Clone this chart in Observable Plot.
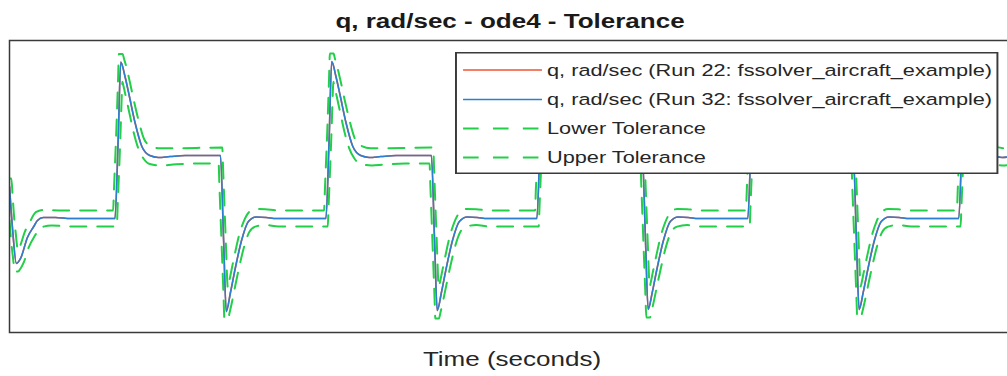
<!DOCTYPE html>
<html>
<head>
<meta charset="utf-8">
<script src="https://cdn.jsdelivr.net/npm/d3@7"></script>
<script src="https://cdn.jsdelivr.net/npm/@observablehq/plot@0.6"></script>
<style>
  html, body { margin: 0; padding: 0; background: #fff; overflow: hidden; }
  #page { position: relative; width: 1007px; height: 376px; overflow: hidden;
          font-family: "Liberation Sans", Arial, Helvetica, sans-serif; }
  #title { position: absolute; left: 510px; top: 11px; font-size: 20px; line-height: 20px;
           font-weight: bold; color: #1a1a1a; white-space: nowrap;
           transform: translateX(-50%) scaleX(1.3); }
  #plot { position: absolute; left: 0; top: 34px; width: 1014px; }
  #plot svg { max-width: none !important; }
  #xlabel { position: absolute; left: 512px; top: 349px; font-size: 20px; line-height: 20px;
            color: #262626; white-space: nowrap; transform: translateX(-50%) scaleX(1.3); }
  #legend { position: absolute; left: 455px; top: 52px; transform-origin: 0 0; transform: scaleX(1.3); }
</style>
</head>
<body>
<div id="page">
  <div id="title"></div>
  <div id="plot"></div>
  <div id="xlabel"></div>
  <div id="legend"></div>
</div>
<script>
// ---- text ----
const titleText = "q, rad/sec - ode4 - Tolerance";
const xLabelText = "Time (seconds)";
const legendLabels = [
  "q, rad/sec (Run 22: fssolver_aircraft_example)",
  "q, rad/sec (Run 32: fssolver_aircraft_example)",
  "Lower Tolerance",
  "Upper Tolerance"
];
const legendColors = ["#ee5434", "#2b7fd3", "#22cf48", "#22cf48"];
const legendDashed = [false, false, true, true];

// ---- signal (seconds, q) ----
const timeSig = [
  0.00,0.06,0.13,0.21,0.34,0.46,0.53,0.64,0.87,1.16,2.00,
  2.06,2.11,2.19,2.27,2.38,2.51,2.66,2.82,3.04,3.33,4.00,
  4.06,4.11,4.19,4.28,4.40,4.53,4.68,4.87,5.06,6.00,
  6.06,6.11,6.19,6.27,6.38,6.51,6.66,6.82,7.04,7.33,8.00,
  8.06,8.11,8.19,8.28,8.40,8.53,8.68,8.87,9.06,10.00,
  10.06,10.11,10.19,10.27,10.38,10.51,10.66,10.82,11.04,11.33,12.00,
  12.06,12.11,12.19,12.28,12.40,12.53,12.68,12.87,13.06,14.00,
  14.06,14.11,14.19,14.27,14.38,14.51,14.66,14.82,15.04,15.33,16.00,
  16.06,16.11,16.19,16.28,16.40,16.53,16.68,16.87,17.06,18.00,
  18.06,18.11,18.19,18.27,18.38,18.51,18.66,18.82,19.00
];
const qRun32 = [
  0.000,-0.300,-0.527,-0.493,-0.349,-0.274,-0.233,-0.212,-0.212,-0.219,-0.219,
  0.315,0.853,0.753,0.623,0.438,0.274,0.212,0.199,0.205,0.212,0.212,
  -0.370,-0.856,-0.726,-0.562,-0.370,-0.240,-0.209,-0.212,-0.219,-0.219,
  0.315,0.856,0.753,0.623,0.438,0.274,0.212,0.199,0.205,0.212,0.212,
  -0.370,-0.849,-0.726,-0.562,-0.370,-0.240,-0.209,-0.212,-0.219,-0.219,
  0.315,0.853,0.753,0.623,0.438,0.274,0.212,0.199,0.205,0.212,0.212,
  -0.370,-0.842,-0.722,-0.560,-0.370,-0.240,-0.209,-0.212,-0.219,-0.219,
  0.315,0.853,0.753,0.623,0.438,0.274,0.212,0.199,0.205,0.212,0.212,
  -0.370,-0.842,-0.722,-0.560,-0.370,-0.240,-0.209,-0.212,-0.219,-0.219,
  0.315,0.853,0.753,0.623,0.438,0.274,0.212,0.199,0.205
];
// Run 22 reads identical to Run 32 in the picture (hidden beneath it)
const qRun22 = [
  0.000,-0.300,-0.527,-0.493,-0.349,-0.274,-0.233,-0.212,-0.212,-0.219,-0.219,
  0.315,0.853,0.753,0.623,0.438,0.274,0.212,0.199,0.205,0.212,0.212,
  -0.370,-0.856,-0.726,-0.562,-0.370,-0.240,-0.209,-0.212,-0.219,-0.219,
  0.315,0.856,0.753,0.623,0.438,0.274,0.212,0.199,0.205,0.212,0.212,
  -0.370,-0.849,-0.726,-0.562,-0.370,-0.240,-0.209,-0.212,-0.219,-0.219,
  0.315,0.853,0.753,0.623,0.438,0.274,0.212,0.199,0.205,0.212,0.212,
  -0.370,-0.842,-0.722,-0.560,-0.370,-0.240,-0.209,-0.212,-0.219,-0.219,
  0.315,0.853,0.753,0.623,0.438,0.274,0.212,0.199,0.205,0.212,0.212,
  -0.370,-0.842,-0.722,-0.560,-0.370,-0.240,-0.209,-0.212,-0.219,-0.219,
  0.315,0.853,0.753,0.623,0.438,0.274,0.212,0.199,0.205
];

// ---- upper tolerance ----
const timeUpper = [
  0.00,0.035,0.06,0.09,0.12,0.15,0.17,0.21,0.29,0.38,0.50,0.65,1.00,
  1.965,1.98,2.00,2.02,2.04,2.06,2.075,2.145,2.17,2.21,2.28,2.36,2.45,2.55,2.66,2.85,3.10,
  4.035,4.05,4.07,4.09,4.11,4.13,4.14,4.16,4.20,4.27,4.35,4.44,4.54,4.66,4.85,5.10,
  5.965,5.98,6.00,6.02,6.04,6.06,6.075,6.145,6.17,6.21,6.28,6.36,6.45,6.55,6.66,6.85,7.10,
  8.035,8.05,8.07,8.09,8.11,8.13,8.14,8.16,8.20,8.27,8.35,8.44,8.54,8.66,8.85,9.10,
  9.965,9.98,10.00,10.02,10.04,10.06,10.075,10.145,10.17,10.21,10.28,10.36,10.45,10.55,10.66,10.85,11.10,
  12.035,12.05,12.07,12.09,12.11,12.13,12.14,12.16,12.20,12.27,12.35,12.44,12.54,12.66,12.85,13.10,
  13.965,13.98,14.00,14.02,14.04,14.06,14.075,14.145,14.17,14.21,14.28,14.36,14.45,14.55,14.66,14.85,15.10,
  16.035,16.05,16.07,16.09,16.11,16.13,16.14,16.16,16.20,16.27,16.35,16.44,16.54,16.66,16.85,17.10,
  17.965,17.98,18.00,18.02,18.04,18.06,18.075,18.145,18.17,18.21,18.28,18.36,18.45,18.55,18.66,18.85,19.00
];
const qUpper = [
  0.055,0.055,-0.070,-0.220,-0.326,-0.423,-0.440,-0.399,-0.311,-0.247,-0.176,-0.160,-0.164,
  -0.164,-0.030,0.148,0.326,0.531,0.747,0.908,0.908,0.877,0.827,0.719,0.586,0.449,0.327,0.281,0.262,0.262,
  0.267,0.122,-0.073,-0.266,-0.461,-0.655,-0.696,-0.662,-0.589,-0.467,-0.339,-0.240,-0.176,-0.154,-0.156,-0.164,
  -0.164,-0.030,0.148,0.326,0.531,0.747,0.911,0.911,0.877,0.827,0.719,0.586,0.449,0.327,0.281,0.262,0.262,
  0.267,0.122,-0.073,-0.266,-0.461,-0.650,-0.690,-0.660,-0.589,-0.467,-0.339,-0.240,-0.176,-0.154,-0.156,-0.164,
  -0.164,-0.030,0.148,0.326,0.531,0.747,0.908,0.908,0.877,0.827,0.719,0.586,0.449,0.327,0.281,0.262,0.262,
  0.267,0.122,-0.073,-0.266,-0.461,-0.645,-0.685,-0.656,-0.585,-0.465,-0.339,-0.240,-0.176,-0.154,-0.156,-0.164,
  -0.164,-0.030,0.148,0.326,0.531,0.747,0.908,0.908,0.877,0.827,0.719,0.586,0.449,0.327,0.281,0.262,0.262,
  0.267,0.122,-0.073,-0.266,-0.461,-0.645,-0.685,-0.656,-0.585,-0.465,-0.339,-0.240,-0.176,-0.154,-0.156,-0.164,
  -0.164,-0.030,0.148,0.326,0.531,0.747,0.908,0.908,0.877,0.827,0.719,0.586,0.449,0.327,0.281,0.262,0.262
];

// ---- lower tolerance ----
const timeLower = [
  0.00,0.03,0.06,0.09,0.095,0.165,0.20,0.27,0.36,0.48,0.60,0.80,1.16,
  2.035,2.05,2.07,2.09,2.11,2.13,2.14,2.16,2.20,2.27,2.35,2.44,2.54,2.66,2.87,3.10,3.50,
  3.965,3.98,4.00,4.02,4.04,4.06,4.075,4.145,4.17,4.21,4.28,4.36,4.45,4.55,4.66,4.85,5.10,
  6.035,6.05,6.07,6.09,6.11,6.13,6.14,6.16,6.20,6.27,6.35,6.44,6.54,6.66,6.87,7.10,7.50,
  7.965,7.98,8.00,8.02,8.04,8.06,8.075,8.145,8.17,8.21,8.28,8.36,8.45,8.55,8.66,8.85,9.10,
  10.035,10.05,10.07,10.09,10.11,10.13,10.14,10.16,10.20,10.27,10.35,10.44,10.54,10.66,10.87,11.10,11.50,
  11.965,11.98,12.00,12.02,12.04,12.06,12.075,12.145,12.17,12.21,12.28,12.36,12.45,12.55,12.66,12.85,13.10,
  14.035,14.05,14.07,14.09,14.11,14.13,14.14,14.16,14.20,14.27,14.35,14.44,14.54,14.66,14.87,15.10,15.50,
  15.965,15.98,16.00,16.02,16.04,16.06,16.075,16.145,16.17,16.21,16.28,16.36,16.45,16.55,16.66,16.85,17.10,
  18.035,18.05,18.07,18.09,18.11,18.13,18.14,18.16,18.20,18.27,18.35,18.44,18.54,18.66,18.87,19.00
];
const qLower = [
  -0.230,-0.371,-0.468,-0.566,-0.582,-0.582,-0.567,-0.520,-0.421,-0.338,-0.280,-0.267,-0.274,
  -0.274,-0.140,0.038,0.216,0.421,0.637,0.717,0.690,0.625,0.509,0.377,0.263,0.192,0.154,0.144,0.150,0.157,
  0.157,0.012,-0.183,-0.376,-0.571,-0.765,-0.911,-0.911,-0.870,-0.806,-0.681,-0.545,-0.410,-0.310,-0.275,-0.264,-0.274,
  -0.274,-0.140,0.038,0.216,0.421,0.637,0.717,0.690,0.625,0.509,0.377,0.263,0.192,0.154,0.144,0.150,0.157,
  0.157,0.012,-0.183,-0.376,-0.571,-0.765,-0.904,-0.904,-0.866,-0.803,-0.681,-0.545,-0.410,-0.310,-0.275,-0.264,-0.274,
  -0.274,-0.140,0.038,0.216,0.421,0.637,0.717,0.690,0.625,0.509,0.377,0.263,0.192,0.154,0.144,0.150,0.157,
  0.157,0.012,-0.183,-0.376,-0.571,-0.760,-0.897,-0.897,-0.862,-0.800,-0.679,-0.545,-0.410,-0.310,-0.275,-0.264,-0.274,
  -0.274,-0.140,0.038,0.216,0.421,0.637,0.717,0.690,0.625,0.509,0.377,0.263,0.192,0.154,0.144,0.150,0.157,
  0.157,0.012,-0.183,-0.376,-0.571,-0.760,-0.897,-0.897,-0.862,-0.800,-0.679,-0.545,-0.410,-0.310,-0.275,-0.264,-0.274,
  -0.274,-0.140,0.038,0.216,0.421,0.637,0.717,0.690,0.625,0.509,0.377,0.263,0.192,0.154,0.144,0.148
];

document.getElementById("title").textContent = titleText;
document.getElementById("xlabel").textContent = xLabelText;

const dash = "16,11";
const chart = Plot.plot({
  width: 1014,
  height: 300,
  marginLeft: 9,
  marginRight: 3,
  marginTop: 6,
  marginBottom: 2,
  x: { domain: [0, 19], axis: null },
  y: { domain: [-1, 1], axis: null },
  style: { background: "transparent", overflow: "visible", maxWidth: "none" },
  marks: [
    Plot.line(timeSig, { x: timeSig, y: qRun22, stroke: legendColors[0], strokeWidth: 1.6, curve: "monotone-x", clip: true }),
    Plot.line(timeSig, { x: timeSig, y: qRun32, stroke: legendColors[1], strokeWidth: 1.6, curve: "monotone-x", clip: true }),
    Plot.line(timeLower, { x: timeLower, y: qLower, stroke: legendColors[2], strokeWidth: 2, strokeDasharray: dash, curve: "monotone-x", clip: true }),
    Plot.line(timeUpper, { x: timeUpper, y: qUpper, stroke: legendColors[3], strokeWidth: 2, strokeDasharray: dash, curve: "monotone-x", clip: true }),
    Plot.frame({ stroke: "#3a3a3a", strokeWidth: 1.5 })
  ]
});
chart.style.maxWidth = "none";
document.getElementById("plot").appendChild(chart);

// ---- legend (unscaled box; stretched horizontally like the reference) ----
const lgW = 418, lgH = 122;
const lg = d3.create("svg").attr("width", lgW).attr("height", lgH)
  .style("display", "block").style("overflow", "visible");
lg.append("rect").attr("x", 0.75).attr("y", 0.75).attr("width", lgW - 1.5).attr("height", lgH - 1.5)
  .attr("fill", "#fff").attr("stroke", "#3a3a3a").attr("stroke-width", 1.5);
const rowY = [18, 47.5, 76.5, 105.5];
legendLabels.forEach((lab, i) => {
  lg.append("line").attr("x1", 6.2).attr("x2", 66.9).attr("y1", rowY[i]).attr("y2", rowY[i])
    .attr("stroke", legendColors[i]).attr("stroke-width", legendDashed[i] ? 1.8 : 1.6)
    .attr("stroke-dasharray", legendDashed[i] ? "12,11" : null);
  lg.append("text").attr("x", 70.8).attr("y", rowY[i]).attr("dy", "0.35em")
    .attr("font-family", '"Liberation Sans", Arial, sans-serif').attr("font-size", 16.7)
    .attr("fill", "#262626").text(lab);
});
document.getElementById("legend").appendChild(lg.node());
</script>
</body>
</html>
